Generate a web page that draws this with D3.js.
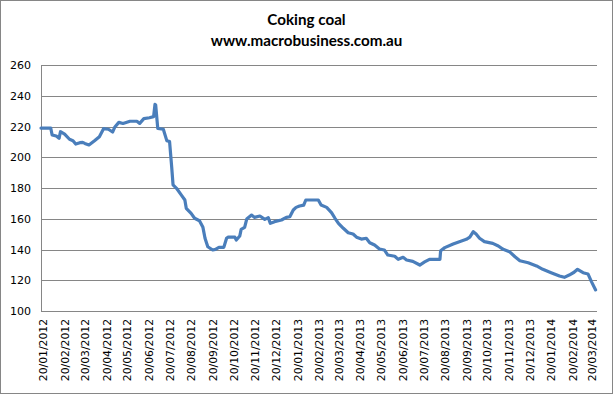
<!DOCTYPE html>
<html>
<head>
<meta charset="utf-8">
<script src="https://cdn.jsdelivr.net/npm/d3@7"></script>
<style>
  body { margin: 0; background: #fff; }
  svg { display: block; }
</style>
</head>
<body>
<div id="chart"></div>
<script>
// weekly-ish coking coal prices
var dates = ["2012-01-17","2012-01-31","2012-02-02","2012-02-08","2012-02-12","2012-02-14","2012-02-20","2012-02-27",
  "2012-03-03","2012-03-07","2012-03-13","2012-03-17","2012-03-20","2012-03-26","2012-04-03","2012-04-10","2012-04-16",
  "2012-04-23","2012-04-29","2012-05-02","2012-05-08","2012-05-14","2012-05-24","2012-06-03","2012-06-07","2012-06-13",
  "2012-06-21","2012-06-27","2012-06-29","2012-06-30","2012-07-03","2012-07-11","2012-07-16","2012-07-20","2012-07-23",
  "2012-07-25","2012-07-30","2012-08-06","2012-08-11","2012-08-13","2012-08-20","2012-08-25","2012-09-01","2012-09-06",
  "2012-09-09","2012-09-13","2012-09-20","2012-09-24","2012-09-29","2012-10-06","2012-10-10","2012-10-12","2012-10-22",
  "2012-10-24","2012-10-29","2012-10-31","2012-11-05","2012-11-08","2012-11-15","2012-11-19","2012-11-27","2012-12-04",
  "2012-12-09","2012-12-12","2012-12-18","2012-12-28","2013-01-04","2013-01-09","2013-01-14","2013-01-18","2013-01-23",
  "2013-01-29","2013-02-01","2013-02-11","2013-02-19","2013-02-23","2013-03-03","2013-03-10","2013-03-15","2013-03-20",
  "2013-03-27","2013-04-03","2013-04-10","2013-04-15","2013-04-22","2013-04-29","2013-05-04","2013-05-11","2013-05-18",
  "2013-05-25","2013-05-30","2013-06-09","2013-06-14","2013-06-21","2013-06-26","2013-07-05","2013-07-15","2013-07-22",
  "2013-07-29","2013-08-13","2013-08-14","2013-08-20","2013-09-01","2013-09-10","2013-09-20","2013-09-25","2013-09-30",
  "2013-10-04","2013-10-09","2013-10-16","2013-10-28","2013-11-05","2013-11-12","2013-11-21","2013-11-29","2013-12-06",
  "2013-12-18","2013-12-30","2014-01-08","2014-01-20","2014-02-01","2014-02-08","2014-02-15","2014-02-22","2014-02-27",
  "2014-03-07","2014-03-14","2014-03-19","2014-03-25"];

var prices = [219,219,214.5,213.8,212.3,216.6,215,211.7,
  210.8,208.6,209.5,209.7,209,208,210.8,213.4,218.6,
  218.2,216.4,219.5,222.7,222,223.4,223.4,222,225.1,
  225.7,226.4,234.4,234,218.8,218.2,210.8,210.2,193.9,
  182,179.8,175.4,172.2,166.8,163.5,160.3,158.7,154.4,
  147.3,141.8,139.7,140.1,141.4,141.4,147.3,148,148,
  146.2,148.8,153.1,154.4,159.8,162.4,160.9,161.8,159.6,
  160.7,157,158.1,159.2,160.9,161.3,165.7,167.4,168.3,
  168.9,172.2,172.2,172.2,168.9,167.4,164,160.3,157,
  153.8,150.9,150.1,148,146.8,147.3,144.4,142.9,140.3,
  139.7,136.4,135.6,133.6,134.9,133.2,132.3,129.9,131.9,
  133.6,133.6,139.2,141.2,143.6,145.1,146.6,148,151.6,
  150.1,147.3,145.1,144,142.3,140.1,138.6,135.3,132.7,
  131.4,129.3,127.1,124.9,122.8,121.9,123.4,125.2,127.1,
  124.9,124.1,119.1,113.7];

var tickLabels = ["20/01/2012","20/02/2012","20/03/2012","20/04/2012","20/05/2012","20/06/2012","20/07/2012",
  "20/08/2012","20/09/2012","20/10/2012","20/11/2012","20/12/2012","20/01/2013","20/02/2013","20/03/2013",
  "20/04/2013","20/05/2013","20/06/2013","20/07/2013","20/08/2013","20/09/2013","20/10/2013","20/11/2013",
  "20/12/2013","20/01/2014","20/02/2014","20/03/2014"];

var yTicks = [100, 120, 140, 160, 180, 200, 220, 240, 260];

var W = 613, H = 394;
var margin = {top: 65, right: 16, bottom: 83, left: 41},
    width = W - margin.left - margin.right,
    height = H - margin.top - margin.bottom;

var parseIso = d3.timeParse("%Y-%m-%d"),
    parseTick = d3.timeParse("%d/%m/%Y");

var data = dates.map(function (d, i) { return {date: parseIso(d), value: prices[i]}; });

var root = d3.select("#chart")
  .append("svg")
    .attr("width", W)
    .attr("height", H);

// outer frame
root.append("rect")
  .attr("x", 0.5).attr("y", 0.5)
  .attr("width", W - 1).attr("height", H - 1)
  .style("fill", "#fff")
  .style("stroke", "#868686");

// titles
root.append("text")
  .attr("x", W / 2).attr("y", 25)
  .attr("text-anchor", "middle")
  .style("font-family", "Lato, 'Open Sans', sans-serif")
  .style("font-weight", "bold")
  .style("font-size", "15.2px")
  .text("Coking coal");

root.append("text")
  .attr("x", W / 2).attr("y", 46)
  .attr("text-anchor", "middle")
  .style("font-family", "Lato, 'Open Sans', sans-serif")
  .style("font-weight", "bold")
  .style("font-size", "15.2px")
  .text("www.macrobusiness.com.au");

var svg = root.append("g")
  .attr("transform", "translate(" + margin.left + "," + margin.top + ")");

var x = d3.scaleTime()
  .domain([parseIso("2012-01-17"), parseIso("2014-03-27")])
  .range([0, width]);

var y = d3.scaleLinear()
  .domain([100, 260])
  .range([height, 0]);

// gridlines
svg.append("g")
  .selectAll("line")
  .data(yTicks.slice(1))
  .enter()
  .append("line")
    .attr("x1", 0)
    .attr("x2", width)
    .attr("y1", function (d) { return Math.round(y(d)) + 0.5; })
    .attr("y2", function (d) { return Math.round(y(d)) + 0.5; })
    .style("stroke", "#868686");

// Y axis
var yAxis = svg.append("g")
  .call(d3.axisLeft(y).tickValues(yTicks).tickSize(0).tickPadding(10));
yAxis.select(".domain").attr("d", "M0.5,0V" + height).style("stroke", "#868686");
yAxis.selectAll("text")
  .style("font-family", "'DejaVu Sans', Verdana, sans-serif")
  .style("font-size", "11px")
  .style("fill", "#000");

// X axis
var xAxis = svg.append("g")
  .attr("transform", "translate(0," + height + ")")
  .call(d3.axisBottom(x)
    .tickValues(tickLabels.map(parseTick))
    .tickFormat(d3.timeFormat("%d/%m/%Y"))
    .tickSize(0));
xAxis.select(".domain").attr("d", "M0,0.5H" + width).style("stroke", "#868686");
xAxis.selectAll("text")
  .attr("transform", "rotate(-90)")
  .attr("x", -8)
  .attr("y", 0)
  .attr("dy", "0.35em")
  .style("text-anchor", "end")
  .style("font-family", "'DejaVu Sans', Verdana, sans-serif")
  .style("font-size", "10.8px")
  .style("fill", "#000");

// price line
svg.append("path")
  .datum(data)
  .attr("d", d3.line()
    .x(function (d) { return x(d.date); })
    .y(function (d) { return y(d.value); }))
  .style("fill", "none")
  .style("stroke", "#4a7ebb")
  .style("stroke-width", 3.2)
  .style("stroke-linejoin", "round")
  .style("stroke-linecap", "round");
</script>
</body>
</html>
